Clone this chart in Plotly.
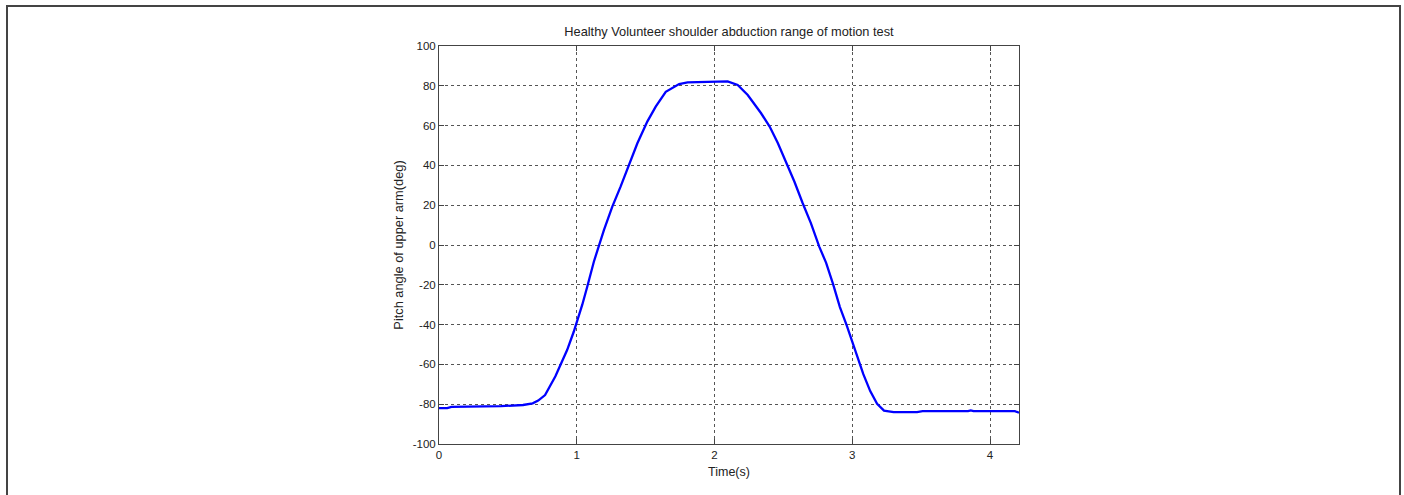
import plotly.graph_objects as go

time_s = [0, 0.06, 0.09, 0.3, 0.45, 0.61, 0.68, 0.72, 0.77, 0.845, 0.88, 0.93, 0.978, 1.003,
          1.04, 1.076, 1.1, 1.124, 1.197, 1.258, 1.318, 1.379, 1.44, 1.512, 1.573, 1.646,
          1.743, 1.804, 1.9, 1.998, 2.095, 2.168, 2.241, 2.338, 2.4, 2.46, 2.52, 2.58, 2.64,
          2.70, 2.76, 2.81, 2.86, 2.91, 2.96, 3.02, 3.08, 3.13, 3.18, 3.23, 3.30, 3.47, 3.51,
          3.84, 3.86, 3.88, 4.18, 4.21]
pitch_deg = [-82, -82, -81.3, -81.2, -81, -80.4, -79.6, -78.2, -75.4, -66, -60.3, -52.8, -43.6,
             -38.5, -30, -21, -14, -8.4, 7.5, 19.3, 29.3, 40.2, 51.1, 62, 69.5, 77, 80.9, 81.7,
             81.9, 82.2, 82.2, 80.4, 75.4, 66.2, 59.5, 51.1, 41.9, 31.8, 21, 10.9, -0.8, -9.0,
             -19.5, -31.2, -40.5, -53.1, -64.9, -73.4, -79.8, -83.2, -84.0, -84.0, -83.5,
             -83.5, -83.1, -83.5, -83.5, -84.3]
x_ticks = [0, 1, 2, 3, 4]
x_tick_labels = ["0", "1", "2", "3", "4"]
y_ticks = [-100, -80, -60, -40, -20, 0, 20, 40, 60, 80, 100]
y_tick_labels = ["-100", "-80", "-60", "-40", "-20", "0", "20", "40", "60", "80", "100"]

FONT = "Liberation Sans, Arial, sans-serif"
TXT = "#222222"

fig = go.Figure()
fig.add_trace(go.Scatter(x=time_s, y=pitch_deg, mode="lines",
                         line=dict(color="#0000FF", width=2.3), showlegend=False))

axis_common = dict(
    showline=True, linecolor="#444444", linewidth=1, mirror="ticks",
    ticks="inside", ticklen=5, tickcolor="#444444",
    showgrid=True, gridcolor="#555555", gridwidth=1, griddash="dot",
    zeroline=False, tickfont=dict(family=FONT, size=11.5, color=TXT),
)

fig.update_layout(
    width=1404, height=495,
    margin=dict(l=439, r=385, t=46, b=51),
    paper_bgcolor="white", plot_bgcolor="white",
    font=dict(family=FONT, size=11.5, color=TXT),
    title=dict(text="Healthy Volunteer shoulder abduction range of motion test",
               x=0.5, xref="paper", y=1 - 32 / 495, yref="container",
               xanchor="center", yanchor="middle",
               font=dict(family=FONT, size=12.8, color=TXT)),
    xaxis=dict(range=[0, 4.21], tickvals=x_ticks, ticktext=x_tick_labels,
               title=dict(text="Time(s)", standoff=7,
                          font=dict(family=FONT, size=12.5, color=TXT)),
               **axis_common),
    yaxis=dict(range=[-100, 100], tickvals=y_ticks, ticktext=y_tick_labels,
               title=dict(text="Pitch angle of upper arm(deg)", standoff=6,
                          font=dict(family=FONT, size=12.8, color=TXT)),
               **axis_common),
)

# outer figure frame
px0, px1, py0, py1 = 439, 1019, 46, 444
def xp(px):
    return (px - px0) / (px1 - px0)
def yp(py):
    return (py1 - py) / (py1 - py0)

fig.add_shape(type="rect", xref="paper", yref="paper",
              x0=xp(7), x1=xp(1400), y0=yp(520), y1=yp(6),
              line=dict(color="#444444", width=2), fillcolor="rgba(0,0,0,0)", layer="below")

fig.write_html("out.html", config={"displayModeBar": False},
               post_script="document.body.style.margin='0';document.body.style.overflow='hidden';")
